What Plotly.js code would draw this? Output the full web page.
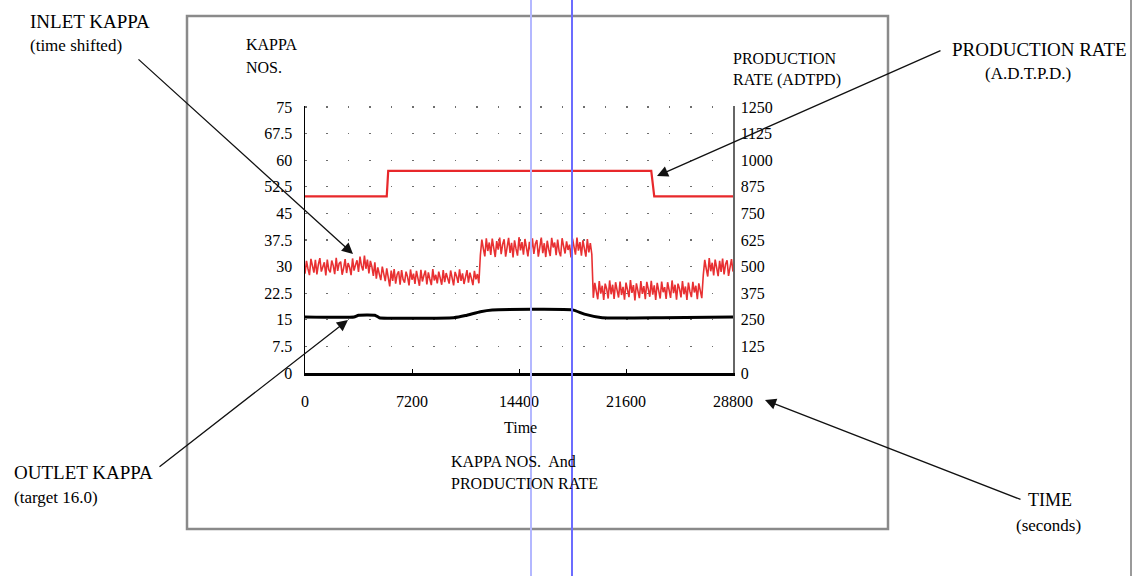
<!DOCTYPE html>
<html>
<head>
<meta charset="utf-8">
<script src="https://cdn.plot.ly/plotly-3.0.1.min.js"></script>
<style>html,body{margin:0;padding:0;background:#fff;}#chart{width:1133px;height:576px;}</style>
</head>
<body>
<div id="chart"></div>
<script>
// ---- Data ----
// Inlet kappa (time shifted), sampled every 100 s from 0 to 28800 s
const inletKappa = [
  // 0 - 3500 s
  28.0, 31.6, 29.4, 27.6, 32.2, 30.1, 28.3, 31.9, 27.8, 30.6, 32.4, 28.6, 29.9, 31.2, 27.5, 32.0, 29.1, 28.4,
  31.7, 30.3, 27.9, 32.5, 28.8, 30.9, 31.4, 27.7, 29.6, 32.1, 28.2, 31.0, 29.8, 27.6, 32.3, 28.9, 30.5, 31.8,
  // 3600 - 4700 s
  28.5, 32.8, 30.2, 28.9, 33.1, 29.4, 32.0, 28.1, 31.6, 30.0, 27.4, 31.2,
  // 4800 - 11700 s
  26.6, 29.8, 27.9, 26.2, 30.0, 28.1, 25.9, 29.5, 27.2, 24.4, 28.9, 26.0, 29.3, 25.2, 27.8, 28.7, 24.9, 29.0,
  26.4, 25.5, 28.6, 27.1, 24.7, 29.2, 26.3, 28.0, 25.1, 28.8, 26.7, 24.6, 29.1, 25.8, 27.5, 28.9, 25.0, 28.4,
  26.5, 24.8, 29.3, 26.1, 27.7, 25.3, 28.6, 26.9, 24.9, 29.0, 25.6, 28.2, 27.0, 25.2, 28.9, 26.2, 24.7, 28.5,
  27.3, 25.4, 29.2, 26.0, 28.1, 25.1, 27.6, 29.0, 25.5, 28.3, 26.6, 24.8, 28.8, 26.4, 27.9, 25.3,
  // 11800 - 19300 s
  33.2, 37.6, 35.1, 32.9, 38.0, 34.4, 36.8, 33.3, 37.9, 35.6, 32.7, 37.2, 34.8, 38.2, 33.5, 36.3, 37.7, 32.8,
  35.9, 38.1, 33.9, 36.7, 32.6, 37.4, 35.0, 33.1, 38.3, 34.6, 36.9, 33.4, 37.8, 35.3, 32.9, 37.0, 34.1, 38.0,
  33.6, 36.4, 37.5, 32.8, 35.7, 38.2, 33.8, 36.6, 32.7, 37.3, 34.9, 33.0, 38.1, 35.4, 36.8, 33.2, 37.6, 34.3,
  32.9, 38.0, 35.8, 33.7, 37.1, 34.7, 36.2, 32.6, 37.9, 35.2, 33.4, 38.2, 34.5, 36.9, 33.1, 37.4, 35.5, 32.8,
  37.8, 34.0, 36.6, 33.5,
  // 19400 - 26700 s
  21.2, 25.4, 23.1, 20.8, 25.9, 22.4, 24.6, 20.6, 25.2, 23.7, 21.0, 26.1, 22.2, 24.9, 20.9, 25.6, 23.4, 21.3,
  25.8, 22.0, 24.3, 20.7, 25.5, 23.0, 21.4, 26.2, 22.6, 24.8, 20.5, 25.3, 23.6, 21.1, 25.9, 22.3, 24.5, 20.8,
  25.7, 23.2, 21.5, 26.0, 22.1, 24.7, 20.6, 25.4, 23.5, 21.0, 25.8, 22.8, 24.2, 20.9, 25.6, 23.3, 21.2, 26.1,
  22.5, 24.9, 20.7, 25.2, 23.8, 21.3, 25.9, 22.2, 24.4, 20.6, 25.5, 23.0, 21.4, 25.7, 22.7, 24.6, 20.8, 25.3,
  23.4, 21.1,
  // 26800 - 28800 s
  27.6, 31.9, 29.4, 27.2, 32.4, 28.7, 31.1, 27.5, 32.0, 29.9, 27.3, 31.6, 28.5, 32.3, 27.8, 30.7, 31.8, 27.4,
  30.2, 32.1, 28.6
];
const inletStart = 0;      // s
const inletStep = 100;     // s

// Outlet kappa (target 16.0)
const outletTime  = [0, 3300, 3600, 4700, 5000, 10000, 10800, 11800, 12600, 18000, 18800, 20000, 24000, 28800];
const outletKappa = [15.8, 15.8, 16.3, 16.3, 15.6, 15.6, 16.2, 17.3, 17.8, 17.8, 16.6, 15.6, 15.6, 15.8];

// Production rate (A.D.T.P.D.)
const rateTime = [0, 5500, 5600, 23300, 23500, 28800];
const rateADTPD = [830, 830, 950, 950, 830, 830];

// Tick labels
const timeTicks = [0, 7200, 14400, 21600, 28800];
const kappaTicks = [0, 7.5, 15, 22.5, 30, 37.5, 45, 52.5, 60, 67.5, 75];
const kappaTickText = ['0', '7.5', '15', '22.5', '30', '37.5', '45', '52.5', '60', '67.5', '75'];
const rateTicks = [0, 125, 250, 375, 500, 625, 750, 875, 1000, 1125, 1250];

// ---- Layout helpers (pixel -> paper) ----
const W = 1133, H = 576;
const PL = 305, PR = 733, PT = 106, PB = 373;
const px = x => (x - PL) / (PR - PL);
const py = y => (PB - y) / (PB - PT);

const serif = 'Liberation Serif, Times New Roman, serif';
const ink = '#000000';

const traces = [
  {
    type: 'scatter', mode: 'lines', name: 'Inlet kappa',
    x0: inletStart, dx: inletStep, y: inletKappa,
    line: {color: '#e83032', width: 1.6},
    xaxis: 'x', yaxis: 'y', hoverinfo: 'skip'
  },
  {
    type: 'scatter', mode: 'lines', name: 'Outlet kappa',
    x: outletTime, y: outletKappa,
    line: {color: '#000000', width: 3, shape: 'spline', smoothing: 0.4},
    xaxis: 'x', yaxis: 'y', hoverinfo: 'skip'
  },
  {
    type: 'scatter', mode: 'lines', name: 'Production rate',
    x: rateTime, y: rateADTPD,
    line: {color: '#e8282b', width: 2.2},
    xaxis: 'x', yaxis: 'y2', hoverinfo: 'skip'
  }
];

function txt(text, x, y, size, anchor) {
  return {
    text: text, xref: 'paper', yref: 'paper', x: px(x), y: py(y),
    xanchor: anchor || 'left', yanchor: 'middle', showarrow: false,
    font: {family: serif, size: size, color: ink}
  };
}
function arrow(tipX, tipY, tailX, tailY) {
  return {
    text: '', xref: 'paper', yref: 'paper', x: px(tipX), y: py(tipY),
    ax: tailX - tipX, ay: tailY - tipY, axref: 'pixel', ayref: 'pixel',
    showarrow: true, arrowhead: 2, arrowsize: 1.7, arrowwidth: 1.3,
    arrowcolor: '#111', standoff: 0, startstandoff: 0
  };
}

const annotations = [
  txt('INLET KAPPA', 28, 21, 19),
  txt('(time shifted)', 28, 46, 17),
  txt('OUTLET KAPPA', 12, 472, 19),
  txt('(target 16.0)', 12, 497, 17),
  txt('PRODUCTION RATE', 1039, 50, 19, 'center'),
  txt('(A.D.T.P.D.)', 1028, 74, 17, 'center'),
  txt('TIME', 1050, 500, 18, 'center'),
  txt('(seconds)', 1048, 525, 17, 'center'),
  txt('KAPPA', 244, 44, 16),
  txt('NOS.', 244, 67, 16),
  txt('PRODUCTION', 731, 58, 16),
  txt('RATE (ADTPD)', 731, 80, 16),
  txt('Time', 520, 427, 16, 'center'),
  txt('KAPPA NOS.  And', 449, 461, 16),
  txt('PRODUCTION RATE', 449, 483, 16),
  arrow(353, 254, 137, 58),
  arrow(348, 320, 158, 468),
  arrow(657, 176, 942, 50),
  arrow(765, 400, 1022, 500)
];

const shapes = [
  {type: 'rect', xref: 'paper', yref: 'paper', x0: px(187), x1: px(888), y0: py(529), y1: py(16),
   line: {color: '#8a8a8a', width: 2.5}, fillcolor: 'rgba(0,0,0,0)', layer: 'below'},
  {type: 'line', xref: 'paper', yref: 'paper', x0: px(1131), x1: px(1131), y0: py(576), y1: py(0),
   line: {color: '#9a9a9a', width: 2}},
  {type: 'line', xref: 'paper', yref: 'paper', x0: px(531), x1: px(531), y0: py(576), y1: py(0),
   line: {color: '#b4b8ff', width: 2}},
  {type: 'line', xref: 'paper', yref: 'paper', x0: px(572), x1: px(572), y0: py(576), y1: py(0),
   line: {color: '#6c6cff', width: 2}}
];

const layout = {
  width: W, height: H, autosize: false,
  margin: {l: PL, r: W - PR, t: PT, b: H - PB, pad: 0},
  paper_bgcolor: '#ffffff', plot_bgcolor: '#ffffff',
  showlegend: false,
  font: {family: serif, color: ink},
  xaxis: {
    range: [0, 28800], tickvals: timeTicks, ticktext: timeTicks.map(String),
    showgrid: false, zeroline: false, showline: true, linecolor: '#000', linewidth: 3,
    ticks: 'inside', ticklen: 4, tickcolor: '#000', tickwidth: 1,
    tickfont: {family: serif, size: 16, color: ink}, ticklabelstandoff: 12
  },
  yaxis: {
    range: [0, 75.3], tickvals: kappaTicks, ticktext: kappaTickText,
    showgrid: true, gridcolor: '#6e6e6e', gridwidth: 1.2, griddash: '1.6px,19.8px',
    zeroline: false, showline: true, linecolor: '#000', linewidth: 1.5, ticks: '',
    tickfont: {family: serif, size: 16, color: ink}, ticklabelstandoff: 8
  },
  yaxis2: {
    range: [0, 1255], tickvals: rateTicks, ticktext: rateTicks.map(String),
    overlaying: 'y', side: 'right', showgrid: false, zeroline: false,
    showline: true, linecolor: '#666', linewidth: 1.5, ticks: '',
    tickfont: {family: serif, size: 16, color: ink}, ticklabelstandoff: 3
  },
  annotations: annotations,
  shapes: shapes
};

Plotly.newPlot('chart', traces, layout, {staticPlot: true, displayModeBar: false});
</script>
</body>
</html>
